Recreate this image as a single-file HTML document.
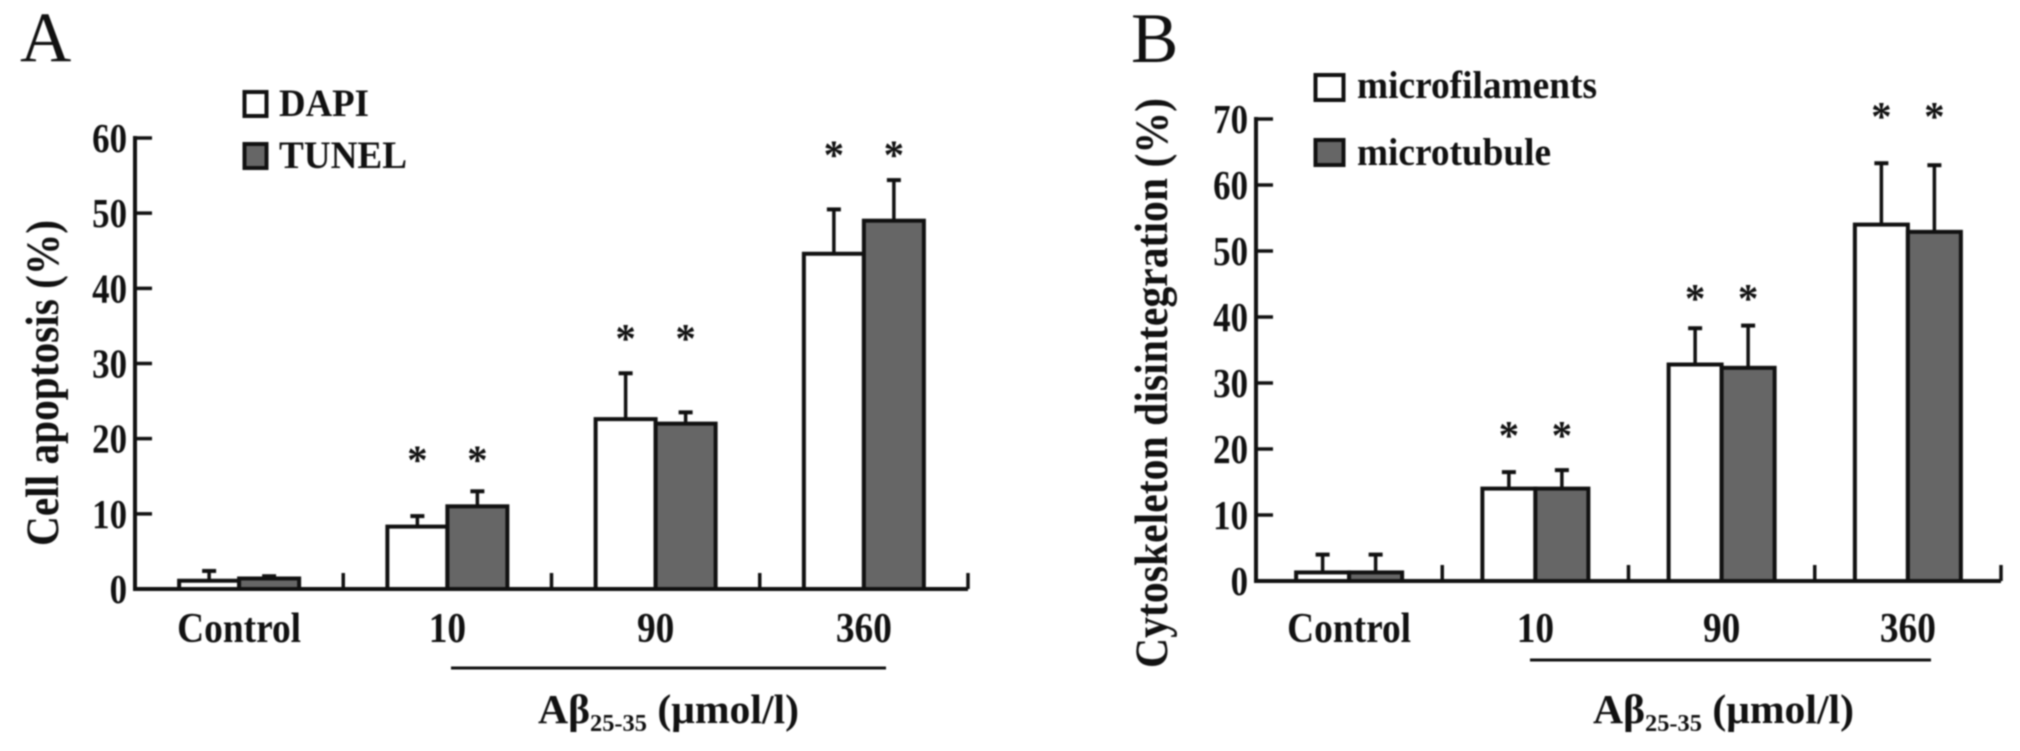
<!DOCTYPE html>
<html lang="en">
<head>
<meta charset="utf-8">
<title>Cell apoptosis and cytoskeleton disintegration</title>
<style>
html,body{margin:0;padding:0;background:#fff;}
svg{display:block;filter:blur(0.8px);}
text{font-family:"Liberation Serif",serif;fill:#111;}
.b{font-weight:bold;}
</style>
</head>
<body>
<svg id="figure" xmlns="http://www.w3.org/2000/svg" width="2020" height="751" viewBox="0 0 2020 751">
  <rect x="0" y="0" width="2020" height="751" fill="#fff"/>

  <g id="panelA">
    <text x="20" y="61" font-size="71">A</text>
    <text class="b" transform="translate(58,546) rotate(-90)" font-size="47" textLength="326" lengthAdjust="spacingAndGlyphs">Cell apoptosis (%)</text>
    <rect x="244.5" y="92" width="22" height="24" fill="#fff" stroke="#111" stroke-width="4"/>
    <text class="b" x="279" y="116" font-size="39" textLength="90" lengthAdjust="spacingAndGlyphs">DAPI</text>
    <rect x="244.5" y="144" width="22" height="24" fill="#666" stroke="#111" stroke-width="4"/>
    <text class="b" x="279" y="168" font-size="39" textLength="128" lengthAdjust="spacingAndGlyphs">TUNEL</text>
    <line x1="451" y1="668" x2="886" y2="668" stroke="#111" stroke-width="3"/>
    <text class="b" x="538" y="723" font-size="41" textLength="261" lengthAdjust="spacingAndGlyphs">Aβ<tspan font-size="24" dy="8">25-35</tspan><tspan dy="-8"> (μmol/l)</tspan></text>
  </g>

  <g id="panelB">
    <text x="1131" y="62" font-size="71">B</text>
    <text class="b" transform="translate(1167,668) rotate(-90)" font-size="47" textLength="570" lengthAdjust="spacingAndGlyphs">Cytoskeleton disintegration (%)</text>
    <rect x="1315.5" y="75" width="28" height="25" fill="#fff" stroke="#111" stroke-width="4"/>
    <text class="b" x="1357" y="98" font-size="39" textLength="240" lengthAdjust="spacingAndGlyphs">microfilaments</text>
    <rect x="1315.5" y="140" width="28" height="25" fill="#666" stroke="#111" stroke-width="4"/>
    <text class="b" x="1357" y="165" font-size="39" textLength="194" lengthAdjust="spacingAndGlyphs">microtubule</text>
    <line x1="1530" y1="660" x2="1931" y2="660" stroke="#111" stroke-width="3"/>
    <text class="b" x="1593" y="723" font-size="41" textLength="261" lengthAdjust="spacingAndGlyphs">Aβ<tspan font-size="24" dy="8">25-35</tspan><tspan dy="-8"> (μmol/l)</tspan></text>
  </g>
</svg>

<script>
// Shared categories
const categories = ['Control', '10', '90', '360'];

// Panel A data
const ticksA = [0, 10, 20, 30, 40, 50, 60];
const dapiValues = [1.1, 8.3, 22.6, 44.6];
const dapiErrorTops = [2.4, 9.7, 28.7, 50.5];
const tunelValues = [1.4, 11, 22, 49];
const tunelErrorTops = [1.7, 13, 23.5, 54.4];
const starLevelsA = [null, 18, 34.2, 58.6];

// Panel B data
const ticksB = [0, 10, 20, 30, 40, 50, 60, 70];
const microfilamentValues = [1.3, 14, 32.8, 54];
const microfilamentErrorTops = [4, 16.5, 38.3, 63.3];
const microtubuleValues = [1.3, 14, 32.3, 52.9];
const microtubuleErrorTops = [4, 16.8, 38.7, 63];
const starLevelsB = [null, 23, 43.8, 71.4];

const NS = 'http://www.w3.org/2000/svg';
const INK = '#111';

function make(parent, tag, attrs, content) {
  const node = document.createElementNS(NS, tag);
  for (const k in attrs) node.setAttribute(k, attrs[k]);
  if (content !== undefined) node.textContent = content;
  parent.appendChild(node);
  return node;
}

function drawPanel(opts) {
  const root = document.getElementById(opts.id);
  const x0 = opts.left, x1 = opts.right, y0 = opts.bottom, yTop = opts.top;
  const maxTick = opts.ticks[opts.ticks.length - 1];
  const yScale = v => y0 - (v / maxTick) * (y0 - yTop);
  const band = (x1 - x0) / categories.length;
  const center = i => x0 + band * (i + 0.5);
  const bw = opts.barWidth;

  categories.forEach((cat, i) => {
    opts.series.forEach((s, j) => {
      const bx = center(i) + (j === 0 ? -bw : 0);
      const cx = bx + bw / 2;
      const top = yScale(s.values[i]);
      const errTop = yScale(s.errors[i]);

      const stem = make(root, 'line', {x1: cx, y1: top, x2: cx, y2: errTop, stroke: INK, 'stroke-width': 3.5});
      
      

      const cap = make(root, 'line', {x1: cx - 7, y1: errTop, x2: cx + 7, y2: errTop, stroke: INK, 'stroke-width': 4});
      
      

      const bar = make(root, 'rect', {x: bx, y: top, width: bw, height: y0 - top, fill: s.fill, stroke: INK, 'stroke-width': 4});
      
      

      if (opts.stars[i] !== null) {
        const star = make(root, 'text', {x: cx, y: yScale(opts.stars[i]) + 20, 'font-size': 41, 'text-anchor': 'middle', class: 'b'}, '*');
        
        
      }
    });

    const label = make(root, 'text', {transform: 'translate(' + center(i) + ',' + opts.labelY + ') scale(0.89,1)', 'font-size': 42, 'text-anchor': 'middle', class: 'b'}, cat);
    
    

    const catTick = make(root, 'line', {x1: x0 + band * (i + 1), y1: y0, x2: x0 + band * (i + 1), y2: y0 - 16, stroke: INK, 'stroke-width': 3.5});
    
    
  });

  opts.ticks.forEach(t => {
    const y = yScale(t);
    const tick = make(root, 'line', {x1: x0, y1: y, x2: x0 + 17, y2: y, stroke: INK, 'stroke-width': 3.5});
    
    

    const tl = make(root, 'text', {transform: 'translate(' + (x0 - 8) + ',' + (y + 14) + ') scale(0.85,1)', 'font-size': 41, 'text-anchor': 'end', class: 'b'}, String(t));
    
    
  });

  const yAxis = make(root, 'line', {x1: x0, y1: yTop - 2, x2: x0, y2: y0 + 2, stroke: INK, 'stroke-width': 4});
  
  

  const xAxis = make(root, 'line', {x1: x0, y1: y0, x2: x1, y2: y0, stroke: INK, 'stroke-width': 4});
  
  
}

drawPanel({
  id: 'panelA', left: 135, right: 968, bottom: 589, top: 138, barWidth: 60, labelY: 642,
  ticks: ticksA, stars: starLevelsA,
  series: [
    {key: 'dapi', fill: '#fff', values: dapiValues, errors: dapiErrorTops},
    {key: 'tunel', fill: '#666', values: tunelValues, errors: tunelErrorTops}
  ]
});

drawPanel({
  id: 'panelB', left: 1256, right: 2001, bottom: 581, top: 119, barWidth: 53, labelY: 642,
  ticks: ticksB, stars: starLevelsB,
  series: [
    {key: 'microfilaments', fill: '#fff', values: microfilamentValues, errors: microfilamentErrorTops},
    {key: 'microtubule', fill: '#666', values: microtubuleValues, errors: microtubuleErrorTops}
  ]
});
</script>
</body>
</html>
